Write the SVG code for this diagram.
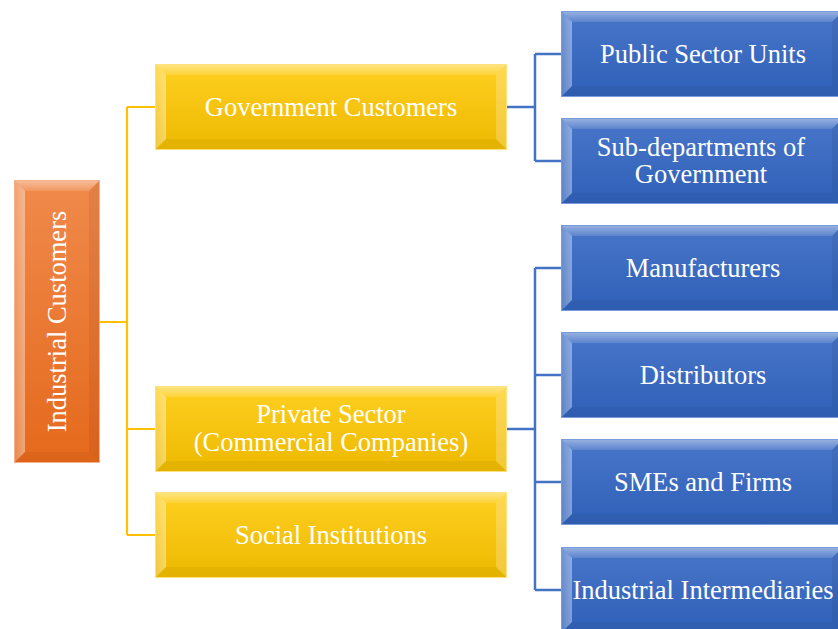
<svg xmlns="http://www.w3.org/2000/svg" xmlns:xlink="http://www.w3.org/1999/xlink" width="838" height="629" viewBox="0 0 838 629">
  <defs>
    <linearGradient id="gOrange" x1="0" y1="0" x2="0" y2="1">
      <stop offset="0" stop-color="#F08A4C"/>
      <stop offset="1" stop-color="#E5691C"/>
    </linearGradient>
    <linearGradient id="gYellow" x1="0" y1="0" x2="0" y2="1">
      <stop offset="0" stop-color="#FFD022"/>
      <stop offset="1" stop-color="#EDB900"/>
    </linearGradient>
    <linearGradient id="gBlue" x1="0" y1="0" x2="0" y2="1">
      <stop offset="0" stop-color="#4876C9"/>
      <stop offset="1" stop-color="#2F60B8"/>
    </linearGradient>
    <!-- soft highlight for the top facet -->
    <linearGradient id="gTop" x1="0" y1="0" x2="0" y2="1">
      <stop offset="0" stop-color="#FFFFFF" stop-opacity="0.45"/>
      <stop offset="1" stop-color="#FFFFFF" stop-opacity="0.12"/>
    </linearGradient>
    <linearGradient id="gLeft" x1="0" y1="0" x2="1" y2="0">
      <stop offset="0" stop-color="#FFFFFF" stop-opacity="0.2"/>
      <stop offset="1" stop-color="#FFFFFF" stop-opacity="0.4"/>
    </linearGradient>

    <!-- bevel facets shared by the box shapes -->
    <g id="bevelYellow">
      <rect width="352" height="86" fill="url(#gYellow)"/>
      <polygon fill="url(#gTop)" points="0,0 352,0 341,11 11,11"/>
      <polygon fill="url(#gLeft)" points="0,0 11,11 11,75 0,86"/>
      <polygon class="fr" points="352,0 352,86 341,75 341,11"/>
      <polygon class="fb" points="0,86 11,75 341,75 352,86"/>
      <rect x="0.5" y="0.5" width="351" height="85" class="edgeY"/>
    </g>
    <g id="bevelBlue">
      <rect width="282" height="86" fill="url(#gBlue)"/>
      <polygon fill="url(#gTop)" points="0,0 282,0 271,11 11,11"/>
      <polygon fill="url(#gLeft)" points="0,0 11,11 11,75 0,86"/>
      <polygon class="frd" points="282,0 282,86 271,75 271,11"/>
      <polygon class="fb" points="0,86 11,75 271,75 282,86"/>
      <rect x="0.5" y="0.5" width="281" height="85" class="edgeB"/>
    </g>
  </defs>
  <style>
    .fr { fill: #FFFFFF; fill-opacity: 0.22; }
    .frd { fill: #000000; fill-opacity: 0.06; }
    .fb { fill: #000000; fill-opacity: 0.04; }
    .edgeY { fill: none; stroke: #FFE27E; stroke-width: 1; }
    .edgeB { fill: none; stroke: #7A9BD9; stroke-width: 1; }
    .edgeO { fill: none; stroke: #F6B08A; stroke-width: 1; }
    .lbl { font-family: "Liberation Serif", "Times New Roman", serif; font-size: 26.5px; fill: #FFFFFF; text-anchor: middle; }
    .cy { fill: none; stroke: #FFC000; stroke-width: 2.2; }
    .cb { fill: none; stroke: #4472C4; stroke-width: 2.5; }
  </style>

  <rect width="838" height="629" fill="#FFFFFF"/>

  <!-- connectors -->
  <g id="connectors">
    <!-- root to second level -->
    <path class="cy" d="M100,322 H127 M127,107 V535 M127,107 H155 M127,429 H155 M127,535 H155"/>
    <!-- government branch -->
    <path class="cb" d="M507,107 H535" stroke-width="3.5"/>
    <path class="cb" d="M535,54 V161 M535,54 H561 M535,161 H561"/>
    <!-- private sector branch -->
    <path class="cb" d="M507,429 H535" stroke-width="3.5"/>
    <path class="cb" d="M535,268 V590 M535,268 H561 M535,375 H561 M535,482 H561 M535,590 H561"/>
  </g>

  <!-- root -->
  <g id="industrial-customers">
    <rect x="14" y="180" width="86" height="283" fill="url(#gOrange)"/>
    <polygon fill="url(#gTop)" points="14,180 100,180 89,191 25,191"/>
    <polygon fill="url(#gLeft)" points="14,180 25,191 25,452 14,463"/>
    <polygon class="frd" points="100,180 100,463 89,452 89,191"/>
    <polygon class="fb" points="14,463 25,452 89,452 100,463"/>
    <rect x="14.5" y="180.5" width="85" height="282" class="edgeO"/>
    <text class="lbl" transform="translate(66,321.5) rotate(-90)">Industrial Customers</text>
  </g>

  <!-- second level -->
  <g id="government-customers">
    <use xlink:href="#bevelYellow" x="155" y="64"/>
    <text class="lbl" x="331" y="116">Government Customers</text>
  </g>
  <g id="private-sector">
    <use xlink:href="#bevelYellow" x="155" y="386"/>
    <text class="lbl" x="331" y="423">Private Sector</text>
    <text class="lbl" x="331" y="451">(Commercial Companies)</text>
  </g>
  <g id="social-institutions">
    <use xlink:href="#bevelYellow" x="155" y="492"/>
    <text class="lbl" x="331" y="544">Social Institutions</text>
  </g>

  <!-- third level -->
  <g id="public-sector-units">
    <use xlink:href="#bevelBlue" x="561" y="11"/>
    <text class="lbl" x="703" y="63">Public Sector Units</text>
  </g>
  <g id="sub-departments">
    <use xlink:href="#bevelBlue" x="561" y="118"/>
    <text class="lbl" x="701" y="156">Sub-departments of</text>
    <text class="lbl" x="701" y="183">Government</text>
  </g>
  <g id="manufacturers">
    <use xlink:href="#bevelBlue" x="561" y="225"/>
    <text class="lbl" x="703" y="277">Manufacturers</text>
  </g>
  <g id="distributors">
    <use xlink:href="#bevelBlue" x="561" y="332"/>
    <text class="lbl" x="703" y="384">Distributors</text>
  </g>
  <g id="smes-and-firms">
    <use xlink:href="#bevelBlue" x="561" y="439"/>
    <text class="lbl" x="703" y="491">SMEs and Firms</text>
  </g>
  <g id="industrial-intermediaries">
    <use xlink:href="#bevelBlue" x="561" y="547"/>
    <text class="lbl" x="703" y="599">Industrial Intermediaries</text>
  </g>
</svg>
